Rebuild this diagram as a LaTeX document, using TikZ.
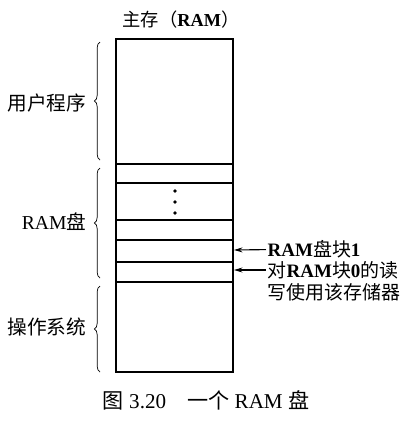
\documentclass[tikz,border=0pt]{standalone}
\usepackage{fontspec}
\setmainfont{Liberation Serif}
\newfontfamily\cjk{Noto Sans CJK SC}
\usetikzlibrary{positioning,decorations.pathreplacing,arrows.meta}

\tikzset{
  memline/.style={line width=1pt},
  partbrace/.style={decorate,decoration={brace,amplitude=4pt},line width=0.5pt},
  partlabel/.style={anchor=east,inner sep=1pt,font=\fontsize{14}{16}\selectfont},
  blklabel/.style={anchor=west,inner sep=1pt,font=\fontsize{13.5}{16}\selectfont\bfseries},
  blkarrow/.style={->,line width=0.8pt,>={Stealth[length=6pt,width=3.5pt]}}
}

\begin{document}
\begin{tikzpicture}[x=0.025cm,y=-0.025cm,>=stealth]
\useasboundingbox (0,0) rectangle (406,424);
\node[font=\fontsize{13}{15}\selectfont] (title) at (181,20) {{\cjk 主存（}\textbf{RAM}{\cjk ）}};
\draw[memline] (116,39) rectangle (233,372);
\foreach \y in {164,183,220,240,262,282}
  \draw[memline] (116,\y) -- (233,\y);
\foreach \y in {191,202,213}
  \fill (175,\y) circle (1.3pt);
\draw[partbrace] (100,160) -- (100,42);
\draw[partbrace] (100,278) -- (100,168);
\draw[partbrace] (100,372) -- (100,286);
\node[partlabel] (user) at (88,103) {\cjk 用户程序};
\node[partlabel] (disk) at (88,222) {RAM{\cjk 盘}};
\node[partlabel] (os) at (88,327) {\cjk 操作系统};
\coordinate (blk1) at (234,250);
\coordinate (blk0) at (234,270);
\node[blklabel] (b1) at (266,249) {RAM{\cjk\mdseries 盘块}1};
\node[blklabel] (b0) at (266,270) {{\cjk\mdseries 对}RAM{\cjk\mdseries 块}0{\cjk\mdseries 的读}};
\node[blklabel,below=1pt of b0.south west,anchor=north west] (b0b) {\cjk\mdseries 写使用该存储器};
\draw[blkarrow] (b1) -- (blk1);
\draw[blkarrow] (b0) -- (blk0);
\node[font=\fontsize{15}{17}\selectfont] (cap) at (206,400) {{\cjk 图} 3.20\quad{\cjk 一个} RAM {\cjk 盘}};
\end{tikzpicture}
\end{document}
